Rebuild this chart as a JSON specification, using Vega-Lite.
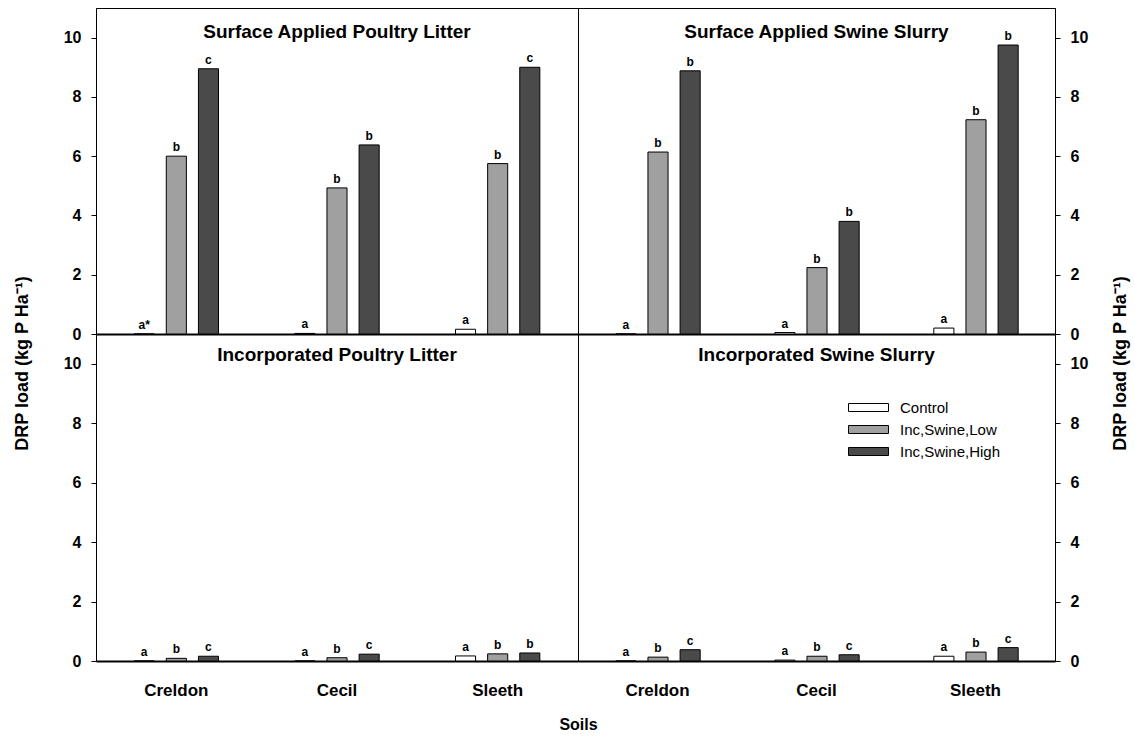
{
  "$schema": "https://vega.github.io/schema/vega-lite/v6.json",
  "autosize": {"type": "pad"},
  "padding": {"left": 12, "top": 7, "right": 4, "bottom": 7},
  "background": "white",
  "bounds": "flush",
  "spacing": 0,
  "columns": 2,
  "datasets": {
    "d": [
      {"panel": "TL", "soil": "Creldon", "trt": "Control", "value": 0, "sig": "a*"},
      {"panel": "TL", "soil": "Creldon", "trt": "Inc,Swine,Low", "value": 6.0, "sig": "b"},
      {"panel": "TL", "soil": "Creldon", "trt": "Inc,Swine,High", "value": 8.95, "sig": "c"},
      {"panel": "TL", "soil": "Cecil", "trt": "Control", "value": 0.02, "sig": "a"},
      {"panel": "TL", "soil": "Cecil", "trt": "Inc,Swine,Low", "value": 4.93, "sig": "b"},
      {"panel": "TL", "soil": "Cecil", "trt": "Inc,Swine,High", "value": 6.38, "sig": "b"},
      {"panel": "TL", "soil": "Sleeth", "trt": "Control", "value": 0.16, "sig": "a"},
      {"panel": "TL", "soil": "Sleeth", "trt": "Inc,Swine,Low", "value": 5.75, "sig": "b"},
      {"panel": "TL", "soil": "Sleeth", "trt": "Inc,Swine,High", "value": 9.0, "sig": "c"},
      {"panel": "TR", "soil": "Creldon", "trt": "Control", "value": 0, "sig": "a"},
      {"panel": "TR", "soil": "Creldon", "trt": "Inc,Swine,Low", "value": 6.14, "sig": "b"},
      {"panel": "TR", "soil": "Creldon", "trt": "Inc,Swine,High", "value": 8.88, "sig": "b"},
      {"panel": "TR", "soil": "Cecil", "trt": "Control", "value": 0.05, "sig": "a"},
      {"panel": "TR", "soil": "Cecil", "trt": "Inc,Swine,Low", "value": 2.24, "sig": "b"},
      {"panel": "TR", "soil": "Cecil", "trt": "Inc,Swine,High", "value": 3.8, "sig": "b"},
      {"panel": "TR", "soil": "Sleeth", "trt": "Control", "value": 0.2, "sig": "a"},
      {"panel": "TR", "soil": "Sleeth", "trt": "Inc,Swine,Low", "value": 7.23, "sig": "b"},
      {"panel": "TR", "soil": "Sleeth", "trt": "Inc,Swine,High", "value": 9.75, "sig": "b"},
      {"panel": "BL", "soil": "Creldon", "trt": "Control", "value": 0, "sig": "a"},
      {"panel": "BL", "soil": "Creldon", "trt": "Inc,Swine,Low", "value": 0.09, "sig": "b"},
      {"panel": "BL", "soil": "Creldon", "trt": "Inc,Swine,High", "value": 0.16, "sig": "c"},
      {"panel": "BL", "soil": "Cecil", "trt": "Control", "value": 0, "sig": "a"},
      {"panel": "BL", "soil": "Cecil", "trt": "Inc,Swine,Low", "value": 0.11, "sig": "b"},
      {"panel": "BL", "soil": "Cecil", "trt": "Inc,Swine,High", "value": 0.23, "sig": "c"},
      {"panel": "BL", "soil": "Sleeth", "trt": "Control", "value": 0.17, "sig": "a"},
      {"panel": "BL", "soil": "Sleeth", "trt": "Inc,Swine,Low", "value": 0.24, "sig": "b"},
      {"panel": "BL", "soil": "Sleeth", "trt": "Inc,Swine,High", "value": 0.27, "sig": "b"},
      {"panel": "BR", "soil": "Creldon", "trt": "Control", "value": 0, "sig": "a"},
      {"panel": "BR", "soil": "Creldon", "trt": "Inc,Swine,Low", "value": 0.13, "sig": "b"},
      {"panel": "BR", "soil": "Creldon", "trt": "Inc,Swine,High", "value": 0.38, "sig": "c"},
      {"panel": "BR", "soil": "Cecil", "trt": "Control", "value": 0.03, "sig": "a"},
      {"panel": "BR", "soil": "Cecil", "trt": "Inc,Swine,Low", "value": 0.16, "sig": "b"},
      {"panel": "BR", "soil": "Cecil", "trt": "Inc,Swine,High", "value": 0.21, "sig": "c"},
      {"panel": "BR", "soil": "Sleeth", "trt": "Control", "value": 0.16, "sig": "a"},
      {"panel": "BR", "soil": "Sleeth", "trt": "Inc,Swine,Low", "value": 0.3, "sig": "b"},
      {"panel": "BR", "soil": "Sleeth", "trt": "Inc,Swine,High", "value": 0.45, "sig": "c"}
    ]
  },
  "concat": [
    {
      "width": 482, "height": 326,
      "data": {"name": "d"},
      "transform": [{"filter": "datum.panel === 'TL'"}],
      "title": {"text": "Surface Applied Poultry Litter", "frame": "group", "anchor": "middle", "offset": 0, "dy": 49, "baseline": "alphabetic"},
      "encoding": {
        "x": {"field": "soil", "type": "nominal", "sort": ["Creldon", "Cecil", "Sleeth"], "scale": {"paddingInner": 0.4, "paddingOuter": 0.2}, "axis": {"labels": false, "ticks": false, "title": null, "domainWidth": 2}},
        "xOffset": {"field": "trt", "type": "nominal", "sort": ["Control", "Inc,Swine,Low", "Inc,Swine,High"], "scale": {"paddingInner": 0.375, "paddingOuter": 0.1875}},
        "y": {"field": "value", "type": "quantitative", "scale": {"domain": [0, 11], "nice": false}, "axis": {"orient": "left", "values": [0, 2, 4, 6, 8, 10], "title": "DRP load (kg P Ha⁻¹)", "titleX": -74, "titleY": 355, "titleAngle": 270, "titleBaseline": "middle", "titleAlign": "center", "titleFontSize": 18}}
      },
      "layer": [
        {"mark": {"type": "bar", "stroke": "black", "strokeWidth": 1},
         "encoding": {"color": {"field": "trt", "type": "nominal", "sort": ["Control", "Inc,Swine,Low", "Inc,Swine,High"], "scale": {"domain": ["Control", "Inc,Swine,Low", "Inc,Swine,High"], "range": ["#ffffff", "#a0a0a0", "#4a4a4a"]},
           "legend": {"orient": "none", "legendX": 762, "legendY": 389, "title": null, "direction": "vertical", "symbolType": "M-2,-0.4H2V0.4H-2Z", "symbolSize": 400, "symbolStrokeColor": "black", "symbolStrokeWidth": 1, "labelFont": "Liberation Sans", "labelFontSize": 15, "labelColor": "black", "labelOffset": 21, "rowPadding": 3}}}},
        {"mark": {"type": "text", "dy": -5, "baseline": "alphabetic", "font": "Liberation Sans", "fontWeight": "bold", "fontSize": 12, "color": "black"},
         "encoding": {"text": {"field": "sig"}}}
      ]
    },
    {
      "width": 477, "height": 326,
      "data": {"name": "d"},
      "transform": [{"filter": "datum.panel === 'TR'"}],
      "title": {"text": "Surface Applied Swine Slurry", "frame": "group", "anchor": "middle", "offset": 0, "dy": 49, "baseline": "alphabetic"},
      "encoding": {
        "x": {"field": "soil", "type": "nominal", "sort": ["Creldon", "Cecil", "Sleeth"], "scale": {"paddingInner": 0.4, "paddingOuter": 0.2}, "axis": {"labels": false, "ticks": false, "title": null, "domainWidth": 2}},
        "xOffset": {"field": "trt", "type": "nominal", "sort": ["Control", "Inc,Swine,Low", "Inc,Swine,High"], "scale": {"paddingInner": 0.375, "paddingOuter": 0.1875}},
        "y": {"field": "value", "type": "quantitative", "scale": {"domain": [0, 11], "nice": false}, "axis": {"orient": "right", "values": [0, 2, 4, 6, 8, 10], "title": "DRP load (kg P Ha⁻¹)", "titleX": 65, "titleY": 355, "titleAngle": 270, "titleBaseline": "middle", "titleAlign": "center", "titleFontSize": 18}}
      },
      "layer": [
        {"mark": {"type": "bar", "stroke": "black", "strokeWidth": 1},
         "encoding": {"color": {"field": "trt", "type": "nominal", "sort": ["Control", "Inc,Swine,Low", "Inc,Swine,High"], "scale": {"domain": ["Control", "Inc,Swine,Low", "Inc,Swine,High"], "range": ["#ffffff", "#a0a0a0", "#4a4a4a"]},
           "legend": {"orient": "none", "legendX": 762, "legendY": 389, "title": null, "direction": "vertical", "symbolType": "M-2,-0.4H2V0.4H-2Z", "symbolSize": 400, "symbolStrokeColor": "black", "symbolStrokeWidth": 1, "labelFont": "Liberation Sans", "labelFontSize": 15, "labelColor": "black", "labelOffset": 21, "rowPadding": 3}}}},
        {"mark": {"type": "text", "dy": -5, "baseline": "alphabetic", "font": "Liberation Sans", "fontWeight": "bold", "fontSize": 12, "color": "black"},
         "encoding": {"text": {"field": "sig"}}}
      ]
    },
    {
      "width": 482, "height": 327,
      "data": {"name": "d"},
      "transform": [{"filter": "datum.panel === 'BL'"}],
      "title": {"text": "Incorporated Poultry Litter", "frame": "group", "anchor": "middle", "offset": 0, "dy": 46, "baseline": "alphabetic"},
      "encoding": {
        "x": {"field": "soil", "type": "nominal", "sort": ["Creldon", "Cecil", "Sleeth"], "scale": {"paddingInner": 0.4, "paddingOuter": 0.2}, "axis": {"labelAngle": 0, "ticks": false, "domainWidth": 2, "labelPadding": 21, "title": "Soils", "titleX": 482, "titleY": 63, "titleBaseline": "middle", "titleAlign": "center", "titleFontSize": 16}},
        "xOffset": {"field": "trt", "type": "nominal", "sort": ["Control", "Inc,Swine,Low", "Inc,Swine,High"], "scale": {"paddingInner": 0.375, "paddingOuter": 0.1875}},
        "y": {"field": "value", "type": "quantitative", "scale": {"domain": [0, 11], "nice": false}, "axis": {"orient": "left", "values": [0, 2, 4, 6, 8, 10], "title": null}}
      },
      "layer": [
        {"mark": {"type": "bar", "stroke": "black", "strokeWidth": 1},
         "encoding": {"color": {"field": "trt", "type": "nominal", "sort": ["Control", "Inc,Swine,Low", "Inc,Swine,High"], "scale": {"domain": ["Control", "Inc,Swine,Low", "Inc,Swine,High"], "range": ["#ffffff", "#a0a0a0", "#4a4a4a"]},
           "legend": {"orient": "none", "legendX": 762, "legendY": 389, "title": null, "direction": "vertical", "symbolType": "M-2,-0.4H2V0.4H-2Z", "symbolSize": 400, "symbolStrokeColor": "black", "symbolStrokeWidth": 1, "labelFont": "Liberation Sans", "labelFontSize": 15, "labelColor": "black", "labelOffset": 21, "rowPadding": 3}}}},
        {"mark": {"type": "text", "dy": -5, "baseline": "alphabetic", "font": "Liberation Sans", "fontWeight": "bold", "fontSize": 12, "color": "black"},
         "encoding": {"text": {"field": "sig"}}}
      ]
    },
    {
      "width": 477, "height": 327,
      "data": {"name": "d"},
      "transform": [{"filter": "datum.panel === 'BR'"}],
      "title": {"text": "Incorporated Swine Slurry", "frame": "group", "anchor": "middle", "offset": 0, "dy": 46, "baseline": "alphabetic"},
      "encoding": {
        "x": {"field": "soil", "type": "nominal", "sort": ["Creldon", "Cecil", "Sleeth"], "scale": {"paddingInner": 0.4, "paddingOuter": 0.2}, "axis": {"labelAngle": 0, "ticks": false, "domainWidth": 2, "labelPadding": 21, "title": null}},
        "xOffset": {"field": "trt", "type": "nominal", "sort": ["Control", "Inc,Swine,Low", "Inc,Swine,High"], "scale": {"paddingInner": 0.375, "paddingOuter": 0.1875}},
        "y": {"field": "value", "type": "quantitative", "scale": {"domain": [0, 11], "nice": false}, "axis": {"orient": "right", "values": [0, 2, 4, 6, 8, 10], "title": null}}
      },
      "layer": [
        {"mark": {"type": "bar", "stroke": "black", "strokeWidth": 1},
         "encoding": {"color": {"field": "trt", "type": "nominal", "sort": ["Control", "Inc,Swine,Low", "Inc,Swine,High"], "scale": {"domain": ["Control", "Inc,Swine,Low", "Inc,Swine,High"], "range": ["#ffffff", "#a0a0a0", "#4a4a4a"]},
           "legend": {"orient": "none", "legendX": 762, "legendY": 389, "title": null, "direction": "vertical", "symbolType": "M-2,-0.4H2V0.4H-2Z", "symbolSize": 400, "symbolStrokeColor": "black", "symbolStrokeWidth": 1, "labelFont": "Liberation Sans", "labelFontSize": 15, "labelColor": "black", "labelOffset": 21, "rowPadding": 3}}}},
        {"mark": {"type": "text", "dy": -5, "baseline": "alphabetic", "font": "Liberation Sans", "fontWeight": "bold", "fontSize": 12, "color": "black"},
         "encoding": {"text": {"field": "sig"}}}
      ]
    }
  ],
  "config": {
    "view": {"stroke": "black", "strokeWidth": 1},
    "title": {"font": "Liberation Sans", "fontSize": 19, "fontWeight": "bold", "color": "black"},
    "axis": {"grid": false, "domainColor": "black", "tickColor": "black", "labelColor": "black", "titleColor": "black", "labelFont": "Liberation Sans", "titleFont": "Liberation Sans", "labelFontWeight": "bold", "titleFontWeight": "bold", "labelFontSize": 16, "titleFontSize": 15, "tickSize": 5, "labelPadding": 10},
    "axisX": {"labelFontSize": 17}
  }
}
